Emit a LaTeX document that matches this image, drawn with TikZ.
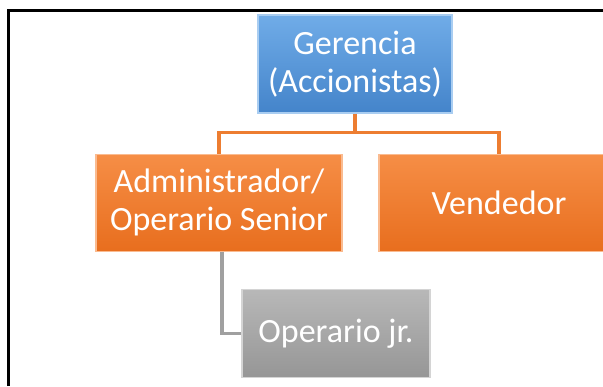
\documentclass[tikz,border=0pt]{standalone}
\usepackage{fontspec}
\setmainfont{Carlito}
\usetikzlibrary{positioning}
\definecolor{bluetop}{RGB}{112,172,232}
\definecolor{bluebot}{RGB}{68,132,202}
\definecolor{orangetop}{RGB}{246,142,70}
\definecolor{orangebot}{RGB}{232,110,30}
\definecolor{graytop}{RGB}{184,184,184}
\definecolor{graybot}{RGB}{150,150,150}
\definecolor{orangeline}{RGB}{237,125,49}
\definecolor{grayline}{RGB}{160,160,160}
\tikzset{
  orgbox/.style={rectangle, align=center, inner sep=2pt, text=white,
    font=\fontsize{34}{38}\selectfont, line width=1.2pt},
  bluebox/.style={orgbox, top color=bluetop, bottom color=bluebot, draw=bluetop!60!white,
    minimum width=194pt, minimum height=98pt},
  orangebox/.style={orgbox, top color=orangetop, bottom color=orangebot, draw=orangetop!60!white,
    minimum width=246pt, minimum height=97pt},
  graybox/.style={orgbox, top color=graytop, bottom color=graybot, draw=graytop!60!white,
    minimum width=188pt, minimum height=88pt},
  orgline/.style={draw=orangeline, line width=3.2pt},
  grayconn/.style={draw=grayline, line width=3.4pt},
  frame/.style={draw=black, line width=2.4pt}
}
\begin{document}
\begin{tikzpicture}[x=1pt, y=-1pt]
\clip (0,0) rectangle (603,386);
\fill[white] (0,0) rectangle (603,386);
% page frame
\coordinate (fl) at (8.5,386);
\coordinate (fc) at (8.5,10.5);
\coordinate (fr) at (603,10.5);
\draw[frame] (fl) -- (fc) -- (fr);
% boxes
\node[bluebox] (ger) at (355,64) {Gerencia\\(Accionistas)};
\node[orangebox, below=40pt of ger.south, xshift=-136pt] (adm) {Administrador/\\Operario Senior};
\node[orangebox, below=40pt of ger.south, xshift=144pt, minimum width=240pt] (ven) {Vendedor};
\node[graybox, below=37pt of adm.south, xshift=117pt] (op) {Operario jr.};
% connectors
\draw[orgline] (ger.south) -- ++(0,19) coordinate (bus) -| (adm.north);
\draw[orgline] (bus) -| (ven.north);
\draw[grayconn] ([xshift=3pt]adm.south) |- (op.west);
\end{tikzpicture}
\end{document}
